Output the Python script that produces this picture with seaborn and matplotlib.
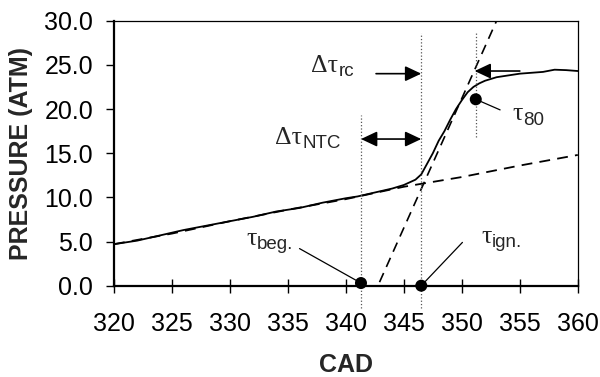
import matplotlib
matplotlib.use("Agg")
import matplotlib.pyplot as plt
import seaborn as sns
import numpy as np

# Cylinder pressure trace vs crank angle
cad = [320, 322, 324, 326, 328, 330, 332, 334, 336, 338, 340, 341, 342, 343, 344,
       345, 345.5, 346, 346.5, 347, 347.5, 348, 348.5, 349, 349.5, 350, 350.5,
       351, 351.5, 352, 353, 354, 355, 356, 357, 358, 359, 360]
pressure = [4.7, 5.1, 5.7, 6.3, 6.8, 7.3, 7.8, 8.4, 8.8, 9.4, 9.9, 10.1, 10.4, 10.7, 11.0,
            11.4, 11.7, 12.0, 12.6, 13.8, 15.0, 16.4, 17.5, 18.8, 20.0, 21.0, 21.9,
            22.5, 22.9, 23.2, 23.6, 23.8, 24.0, 24.1, 24.2, 24.45, 24.4, 24.3]

# Motored (non-reacting) compression curve
cad_comp = [320, 325, 330, 335, 340, 345, 350, 355, 360]
pressure_comp = [4.7, 5.9, 7.3, 8.6, 9.8, 11.2, 12.3, 13.6, 14.8]

# Tangent to the steepest pressure rise
cad_tan = [342.9, 353.0]
pressure_tan = [0.4, 30.0]

# Characteristic times
tau_beg = 341.3
tau_ign = 346.5
tau_80 = 351.2
p_beg, p_ign, p_80 = 0.3, 0.0, 21.1

sns.set_style("white")
plt.rcParams["font.family"] = ["Liberation Sans", "DejaVu Sans"]

fig = plt.figure(figsize=(6.0, 3.77), dpi=100)
ax = fig.add_axes([0.19, 0.2422, 0.773, 0.703])

sns.lineplot(x=cad, y=pressure, ax=ax, color="black", lw=1.3)
sns.lineplot(x=cad_comp, y=pressure_comp, ax=ax, color="black", lw=1.3,
             linestyle=(0, (6, 4)))
sns.lineplot(x=cad_tan, y=pressure_tan, ax=ax, color="black", lw=1.2,
             linestyle=(0, (6, 4)))

# dotted guide lines
ax.plot([tau_beg, tau_beg], [-2.5, 19.3], ls=":", color="#555555", lw=0.9, clip_on=False)
ax.plot([tau_ign, tau_ign], [-2.5, 28.6], ls=":", color="#555555", lw=0.9, clip_on=False)
ax.plot([tau_80, tau_80], [16.8, 28.6], ls=":", color="#555555", lw=0.9, clip_on=False)

# event markers
sns.scatterplot(x=[tau_beg, tau_ign, tau_80], y=[p_beg, p_ign, p_80], ax=ax,
                color="black", s=75, edgecolor="none", clip_on=False, zorder=5)

# leader lines
ax.plot([336.0, tau_beg], [4.2, p_beg], color="black", lw=0.9, clip_on=False)
ax.plot([350.05, tau_ign], [4.9, p_ign], color="black", lw=0.9, clip_on=False)
ax.plot([tau_80, 353.3], [p_80, 19.9], color="black", lw=0.9)

arrow_kw = dict(arrowstyle="-|>,head_length=0.7,head_width=0.33", color="black",
                lw=1.2, shrinkA=0, shrinkB=0, mutation_scale=14)
ax.annotate("", xy=(tau_ign, 24.0), xytext=(342.6, 24.0), arrowprops=arrow_kw)
ax.annotate("", xy=(tau_80 - 0.1, 24.3), xytext=(355.0, 24.3), arrowprops=arrow_kw)
arrow_kw2 = dict(arrow_kw, arrowstyle="<|-|>,head_length=0.7,head_width=0.33")
ax.annotate("", xy=(tau_ign, 16.6), xytext=(tau_beg, 16.6), arrowprops=arrow_kw2)


def symbol_label(x, y, main, sub):
    """Serif Greek symbol followed by a sans-serif subscript."""
    t = ax.text(x, y, main, fontsize=18.5, family=["Liberation Serif"],
                ha="left", va="baseline")
    ax.annotate(sub, xy=(1, 0), xycoords=t, xytext=(0.2, 0.6),
                textcoords="offset points", fontsize=13.5,
                family=["Liberation Sans"], ha="left", va="baseline")


symbol_label(337.0, 24.2, "Δτ", "rc")
symbol_label(333.9, 16.05, "Δτ", "NTC")
symbol_label(354.35, 18.7, "τ", "80")
symbol_label(331.4, 4.6, "τ", "beg.")
symbol_label(351.7, 4.8, "τ", "ign.")

fs = 18
ax.set_xlim(320, 360)
ax.set_ylim(0, 30)
ax.set_xticks(np.arange(320, 361, 5))
ax.set_yticks(np.arange(0, 31, 5))
ax.set_yticklabels([f"{v:.1f}" for v in np.arange(0, 31, 5)])

ax.tick_params(axis="x", direction="inout", length=10, width=1, pad=14.0,
               labelsize=fs, colors="black", bottom=True)
ax.tick_params(axis="y", direction="out", length=5.8, width=1, pad=9.3,
               labelsize=fs, colors="black", left=True)

for side in ["left", "bottom"]:
    ax.spines[side].set_linewidth(1.6)
for side in ["top", "right"]:
    ax.spines[side].set_linewidth(0.9)
for s in ax.spines.values():
    s.set_color("black")
    s.set_visible(True)

ax.set_xlabel("CAD", fontsize=fs, fontweight="bold", labelpad=12)
ax.set_ylabel("PRESSURE (ATM)", fontsize=fs, fontweight="bold", labelpad=8)

fig.savefig("out.png", dpi=100)
